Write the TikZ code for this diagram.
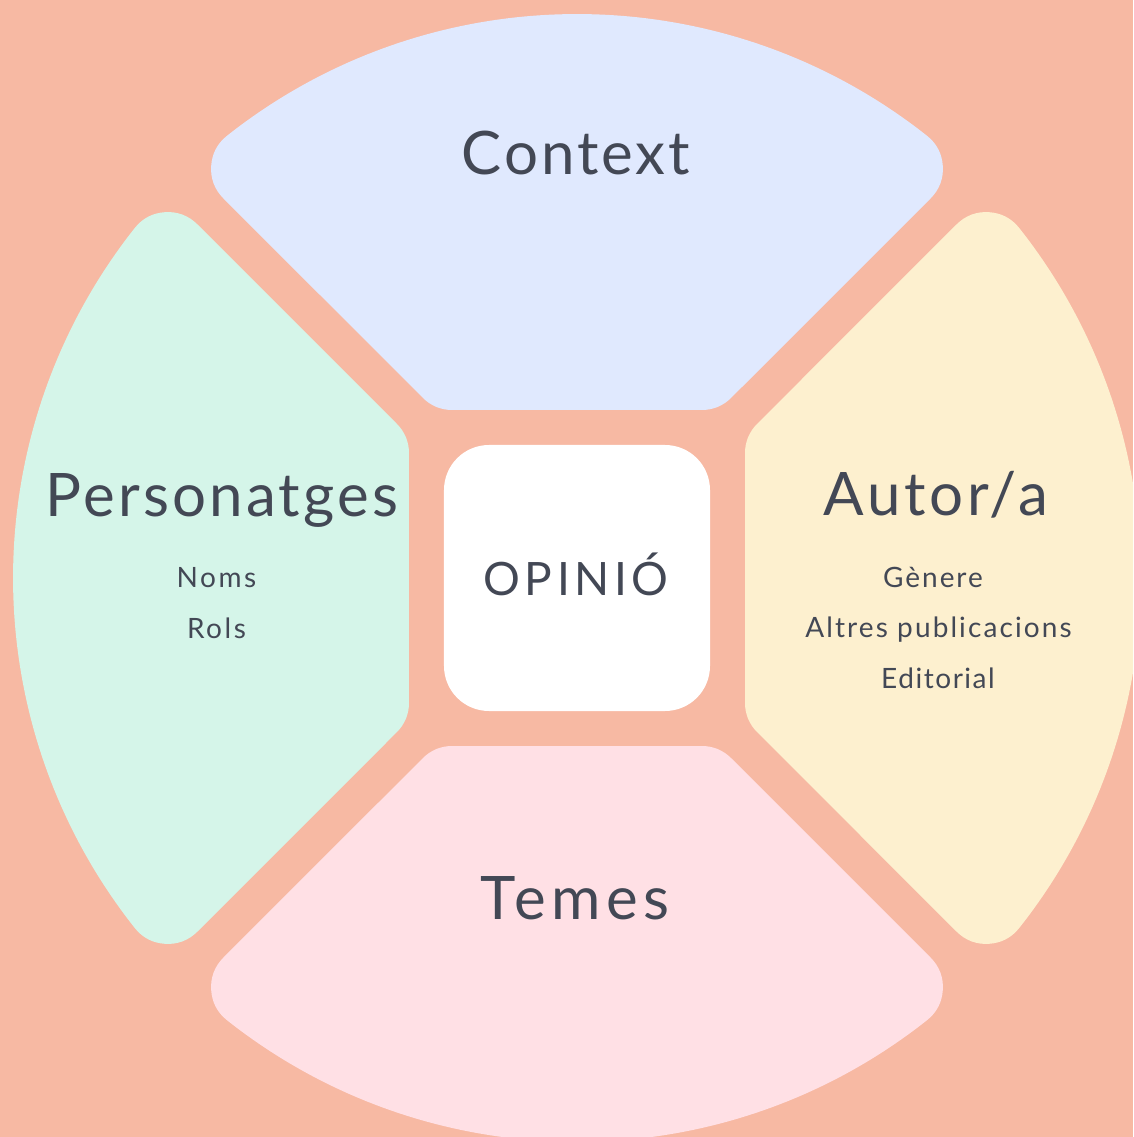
\documentclass[tikz,border=0pt]{standalone}
\usepackage{fontspec}
\setmainfont{Lato}
\definecolor{bgc}{RGB}{247,185,163}
\definecolor{ctxc}{RGB}{224,233,254}
\definecolor{perc}{RGB}{213,245,233}
\definecolor{autc}{RGB}{253,240,207}
\definecolor{temc}{RGB}{255,224,229}
\definecolor{txtc}{RGB}{67,72,85}
\pgfmathsetmacro{\Rin}{564-42}
\pgfmathsetmacro{\din}{26+42*sqrt(2)}
\pgfmathsetmacro{\hin}{168+42}
\pgfmathsetmacro{\uin}{\hin-\din}
\pgfmathsetmacro{\thin}{45+asin(\din/(sqrt(2)*\Rin))}
\pgfmathsetmacro{\thout}{180-\thin}
\tikzset{
  segment/.style={fill=#1, draw=#1, line width=84pt, line join=round},
  title/.style={text=txtc, font={\addfontfeature{LetterSpace=#1}\fontsize{60}{60}\selectfont}, anchor=base, inner sep=0pt},
  sub/.style={text=txtc, font={\addfontfeature{LetterSpace=#1}\fontsize{28}{28}\selectfont}, anchor=base, inner sep=0pt},
}
\newcommand{\segpath}{(-\uin,\hin) -- (\thout:\Rin) arc[start angle=\thout, end angle=\thin, radius=\Rin] -- (\uin,\hin) -- cycle}
\begin{document}
\begin{tikzpicture}[x=1pt,y=1pt]
\useasboundingbox (-577,-559) rectangle (556,578);
\clip (-577,-559) rectangle (556,578);
\fill[bgc] (-577,-559) rectangle (556,578);
\begin{scope}
  \path[segment=ctxc] \segpath;
\end{scope}
\begin{scope}[rotate=90]
  \path[segment=perc] \segpath;
\end{scope}
\begin{scope}[rotate=180]
  \path[segment=temc] \segpath;
\end{scope}
\begin{scope}[rotate=270]
  \path[segment=autc] \segpath;
\end{scope}
\node (sq) [fill=white, rounded corners=45pt, minimum size=266pt, inner sep=0pt] at (0,0) {};
\node (ctx) [title=5] at (-1,403) {Context};
\node (per) [title=5.3] at (-355,61) {Personatges};
\node (noms) [sub=9] at (-360.5,-10) {Noms};
\node (rols) [sub=9] at (-360.5,-60) {Rols};
\node (aut) [title=6] at (359,62) {Autor/a};
\node (gen) [sub=7] at (356,-10) {Gènere};
\node (alt) [sub=7.5] at (361.5,-59) {Altres publicacions};
\node (edi) [sub=5.5] at (361,-110) {Editorial};
\node (tem) [title=9] at (-2,-341) {Temes};
\node (opi) [text=txtc, font={\addfontfeature{LetterSpace=10}\fontsize{46}{46}\selectfont}, anchor=base, inner sep=0pt] at (-1,-17) {OPINIÓ};
\end{tikzpicture}
\end{document}
